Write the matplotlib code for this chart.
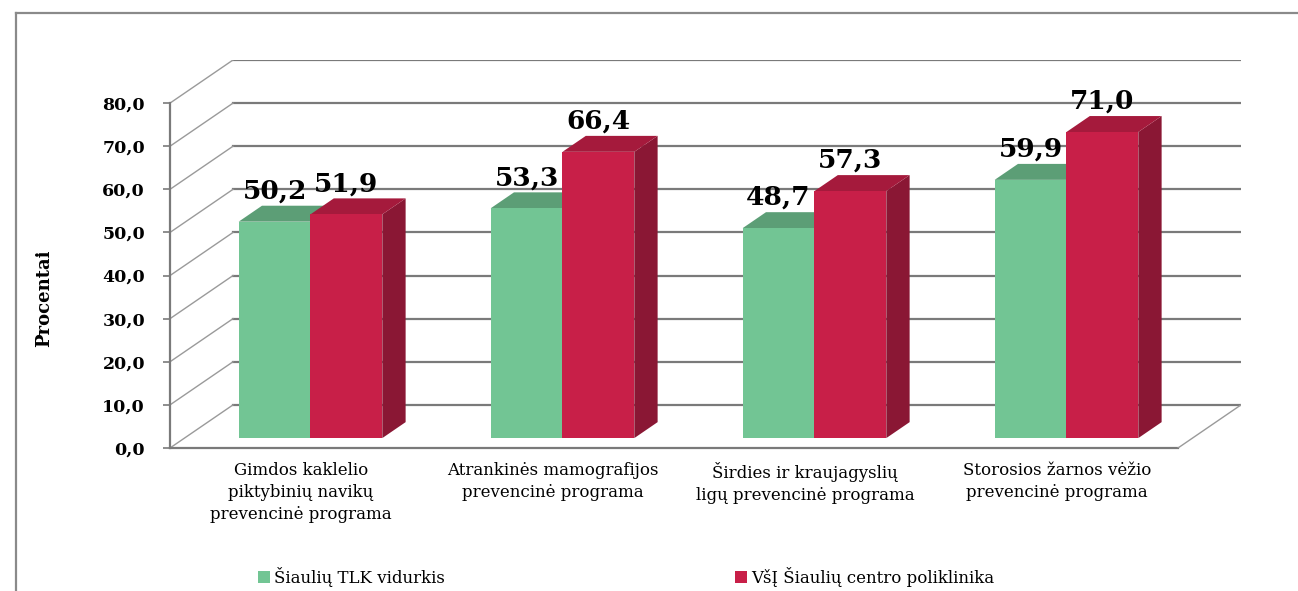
import matplotlib.pyplot as plt
from matplotlib.patches import Polygon, Rectangle
from matplotlib.lines import Line2D
import matplotlib.transforms as mtransforms

categories = [
    "Gimdos kaklelio\npiktybinių navikų\nprevencinė programa",
    "Atrankinės mamografijos\nprevencinė programa",
    "Širdies ir kraujagyslių\nligų prevencinė programa",
    "Storosios žarnos vėžio\nprevencinė programa",
]
series_names = ["Šiaulių TLK vidurkis", "VšĮ Šiaulių centro poliklinika"]
tlk_values = [50.2, 53.3, 48.7, 59.9]
clinic_values = [51.9, 66.4, 57.3, 71.0]
yticks = [0, 10, 20, 30, 40, 50, 60, 70, 80]

W, H = 1298, 591
fig = plt.figure(figsize=(W / 100, H / 100), dpi=100)
fig.patch.set_facecolor("white")


def fx(x):
    return x / W


def fy(y):
    return 1 - y / H


ax = fig.add_axes([fx(170), fy(448), (1241 - 170) / W, (448 - 60) / H])
ax.set_xlim(0, 4.25)
ax.set_ylim(0, 90)
ax.set_facecolor("none")

# depth offset of the fake 3d box: full depth = 0.25 x-units, 10 y-units
DX, DY = 0.25, 10.0


def P(x, y, d):
    return (x + DX * d, y + DY * d)


grid_c = "#7a7a7a"
for v in yticks:
    ax.plot([DX, 4 + DX], [v + DY, v + DY], color=grid_c, lw=1.6, zorder=1)
    ax.plot([0, DX], [v, v + DY], color="#9a9a9a", lw=1.0, zorder=1)
ax.plot([0, 4], [0, 0], color=grid_c, lw=1.6, zorder=1, clip_on=False)
ax.plot([4, 4 + DX], [0, DY], color="#9a9a9a", lw=1.0, zorder=1)

for s in ["top", "right", "bottom"]:
    ax.spines[s].set_visible(False)
ax.spines["left"].set_bounds(0, 80)
ax.spines["left"].set_color(grid_c)
ax.spines["left"].set_linewidth(1.6)
ax.set_xticks([])
ax.set_yticks(yticks)
ax.set_yticklabels([f"{v:.1f}".replace(".", ",") for v in yticks],
                   fontfamily="DejaVu Serif", fontweight="bold", fontsize=12.5)
ax.tick_params(axis="y", length=5, width=1.2, color=grid_c, pad=13)

# --- bars ---
d0, d1 = 0.23, 0.6
w = 0.285
colors = [
    ("#72c594", "#5c9e76", "#4f8a62"),
    ("#c81f48", "#a51a3c", "#8a1734"),
]

for i in range(len(categories)):
    c = i + 0.5
    for k, vals in enumerate([tlk_values, clinic_values]):
        h = vals[i]
        x0 = c - w if k == 0 else c
        x1 = x0 + w
        front_c, top_c, side_c = colors[k]
        side = [P(x1, 0, d0), P(x1, 0, d1), P(x1, h, d1), P(x1, h, d0)]
        top = [P(x0, h, d0), P(x1, h, d0), P(x1, h, d1), P(x0, h, d1)]
        front = [P(x0, 0, d0), P(x1, 0, d0), P(x1, h, d0), P(x0, h, d0)]
        ax.add_patch(Polygon(side, closed=True, fc=side_c, ec="none", zorder=3 + k))
        ax.add_patch(Polygon(top, closed=True, fc=top_c, ec="none", zorder=3 + k))
        ax.add_patch(Polygon(front, closed=True, fc=front_c, ec="none", zorder=3 + k))
        lx = (x0 + x1) / 2 + DX * d0
        ax.text(lx, h + DY * d1 + 0.5, f"{h:.1f}".replace(".", ","),
                ha="center", va="bottom", fontfamily="DejaVu Serif",
                fontweight="bold", fontsize=19, zorder=10)

trans = mtransforms.blended_transform_factory(ax.transData, ax.transAxes)
for i, cat in enumerate(categories):
    ax.text(i + 0.5 + 0.02, (448 - 462) / 388, cat, transform=trans,
            ha="center", va="top", fontfamily="DejaVu Serif", fontsize=12,
            linespacing=1.4, clip_on=False)

fig.text(fx(44), fy(298), "Procentai", rotation=90, ha="center", va="center",
         fontfamily="DejaVu Serif", fontweight="bold", fontsize=13)

# --- legend ---
legend_items = [(258, series_names[0], colors[0][0]), (735, series_names[1], colors[1][0])]
for lx, name, col in legend_items:
    fig.patches.append(Rectangle((fx(lx), fy(583)), 12 / W, 12 / H,
                                 transform=fig.transFigure, fc=col, ec="none"))
    fig.text(fx(lx + 16), fy(577), name, ha="left", va="center",
             fontfamily="DejaVu Serif", fontsize=12)

# --- outer frame (left and top) ---
fig.lines.append(Line2D([fx(16), fx(16)], [fy(13), 0], transform=fig.transFigure,
                        color="#8a8a8a", lw=1.6))
fig.lines.append(Line2D([fx(16), 1], [fy(13), fy(13)], transform=fig.transFigure,
                        color="#8a8a8a", lw=1.6))

plt.savefig("out.png", dpi=100)
